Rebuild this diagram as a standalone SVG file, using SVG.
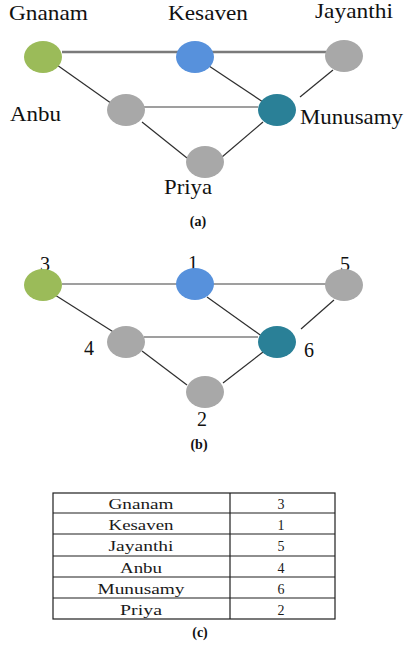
<svg xmlns="http://www.w3.org/2000/svg" width="409" height="649" viewBox="0 0 409 649">
  <style>
    .lbl { font-family: "Liberation Serif", "Times New Roman", serif; font-size: 21px; fill: #111; }
    .num { font-family: "Liberation Serif", "Times New Roman", serif; font-size: 20px; fill: #111; text-anchor: middle; }
    .cap { font-family: "Liberation Serif", "Times New Roman", serif; font-size: 14px; font-weight: bold; fill: #111; text-anchor: middle; }
    .cell { font-family: "Liberation Serif", "Times New Roman", serif; font-size: 14px; fill: #1a1a1a; text-anchor: middle; }
    .green { fill: #9bbb59; }
    .blue { fill: #5791dc; }
    .teal { fill: #2a8097; }
    .grey { fill: #a8a8a8; }
    .edge { stroke: #2e2e2e; stroke-width: 1.2; fill: none; }
    .hedge { stroke: #7f7f7f; stroke-width: 1.6; fill: none; }
    .top { stroke: #7a7a7a; stroke-width: 2.6; fill: none; }
    .grid { stroke: #1e1e1e; stroke-width: 1.2; fill: none; }
  </style>

  <!-- (a) graph with names -->
  <g id="edges-a">
    <line class="top" x1="62" y1="52" x2="326" y2="52"/>
    <line class="edge" x1="57" y1="65" x2="115" y2="106"/>
    <line class="edge" x1="209" y1="66" x2="263" y2="102"/>
    <line class="edge" x1="333" y1="70" x2="300" y2="97"/>
    <line class="hedge" x1="144" y1="107" x2="258" y2="107"/>
    <line class="edge" x1="142" y1="122" x2="187" y2="158"/>
    <line class="edge" x1="222" y1="157" x2="263" y2="122"/>
  </g>
  <g id="gnanam">
    <text class="lbl" x="9" y="20" textLength="79" lengthAdjust="spacingAndGlyphs">Gnanam</text>
    <ellipse class="green" cx="43" cy="57" rx="19" ry="16"/>
  </g>
  <g id="kesaven">
    <text class="lbl" x="168" y="20" textLength="80" lengthAdjust="spacingAndGlyphs">Kesaven</text>
    <ellipse class="blue" cx="195" cy="57" rx="19" ry="16"/>
  </g>
  <g id="jayanthi">
    <text class="lbl" x="315" y="18" textLength="78" lengthAdjust="spacingAndGlyphs">Jayanthi</text>
    <ellipse class="grey" cx="344" cy="56" rx="19" ry="16"/>
  </g>
  <g id="anbu">
    <text class="lbl" x="10" y="121" textLength="51" lengthAdjust="spacingAndGlyphs">Anbu</text>
    <ellipse class="grey" cx="126" cy="110" rx="19" ry="16"/>
  </g>
  <g id="munusamy">
    <text class="lbl" x="300" y="124" textLength="103" lengthAdjust="spacingAndGlyphs">Munusamy</text>
    <ellipse class="teal" cx="277" cy="110" rx="19" ry="16"/>
  </g>
  <g id="priya">
    <text class="lbl" x="164" y="194" textLength="48" lengthAdjust="spacingAndGlyphs">Priya</text>
    <ellipse class="grey" cx="205" cy="162" rx="19" ry="16"/>
  </g>
  <text class="cap" x="198" y="226">(a)</text>

  <!-- (b) graph with numbers -->
  <g id="edges-b">
    <line class="hedge" x1="62" y1="284" x2="326" y2="284"/>
    <line class="edge" x1="55" y1="295" x2="115" y2="333"/>
    <line class="edge" x1="207" y1="297" x2="263" y2="337"/>
    <line class="edge" x1="334" y1="300" x2="301" y2="329"/>
    <line class="hedge" x1="144" y1="337" x2="258" y2="337"/>
    <line class="edge" x1="142" y1="351" x2="187" y2="385"/>
    <line class="edge" x1="223" y1="383" x2="263" y2="352"/>
  </g>
  <g id="n3">
    <text class="num" x="45" y="271">3</text>
    <ellipse class="green" cx="43" cy="285" rx="19" ry="16"/>
  </g>
  <g id="n1">
    <text class="num" x="193" y="270">1</text>
    <ellipse class="blue" cx="195" cy="284" rx="19" ry="16"/>
  </g>
  <g id="n5">
    <text class="num" x="345" y="271">5</text>
    <ellipse class="grey" cx="344" cy="285" rx="19" ry="16"/>
  </g>
  <g id="n4">
    <text class="num" x="89" y="355">4</text>
    <ellipse class="grey" cx="126" cy="342" rx="19" ry="16"/>
  </g>
  <g id="n6">
    <text class="num" x="309" y="357">6</text>
    <ellipse class="teal" cx="277" cy="342" rx="19" ry="16"/>
  </g>
  <g id="n2">
    <text class="num" x="202" y="426">2</text>
    <ellipse class="grey" cx="205" cy="392" rx="19" ry="16"/>
  </g>
  <text class="cap" x="199" y="449">(b)</text>

  <!-- (c) name-to-number table -->
  <g id="table">
    <rect class="grid" x="53" y="493" width="282" height="126"/>
    <line class="grid" x1="230" y1="493" x2="230" y2="619"/>
    <line class="grid" x1="53" y1="513" x2="335" y2="513"/>
    <line class="grid" x1="53" y1="534" x2="335" y2="534"/>
    <line class="grid" x1="53" y1="556" x2="335" y2="556" stroke-width="2"/>
    <line class="grid" x1="53" y1="577" x2="335" y2="577"/>
    <line class="grid" x1="53" y1="598" x2="335" y2="598"/>
    <text class="cell" x="141" y="509" textLength="65" lengthAdjust="spacingAndGlyphs">Gnanam</text>
    <text class="cell" x="141" y="530" textLength="65" lengthAdjust="spacingAndGlyphs">Kesaven</text>
    <text class="cell" x="141" y="551" textLength="65" lengthAdjust="spacingAndGlyphs">Jayanthi</text>
    <text class="cell" x="141" y="573" textLength="42" lengthAdjust="spacingAndGlyphs">Anbu</text>
    <text class="cell" x="141" y="594" textLength="87" lengthAdjust="spacingAndGlyphs">Munusamy</text>
    <text class="cell" x="141" y="615" textLength="42" lengthAdjust="spacingAndGlyphs">Priya</text>
    <text class="cell" x="281" y="509">3</text>
    <text class="cell" x="281" y="530">1</text>
    <text class="cell" x="281" y="551">5</text>
    <text class="cell" x="281" y="573">4</text>
    <text class="cell" x="281" y="594">6</text>
    <text class="cell" x="281" y="615">2</text>
  </g>
  <text class="cap" x="200" y="637" font-size="15">(c)</text>
</svg>
